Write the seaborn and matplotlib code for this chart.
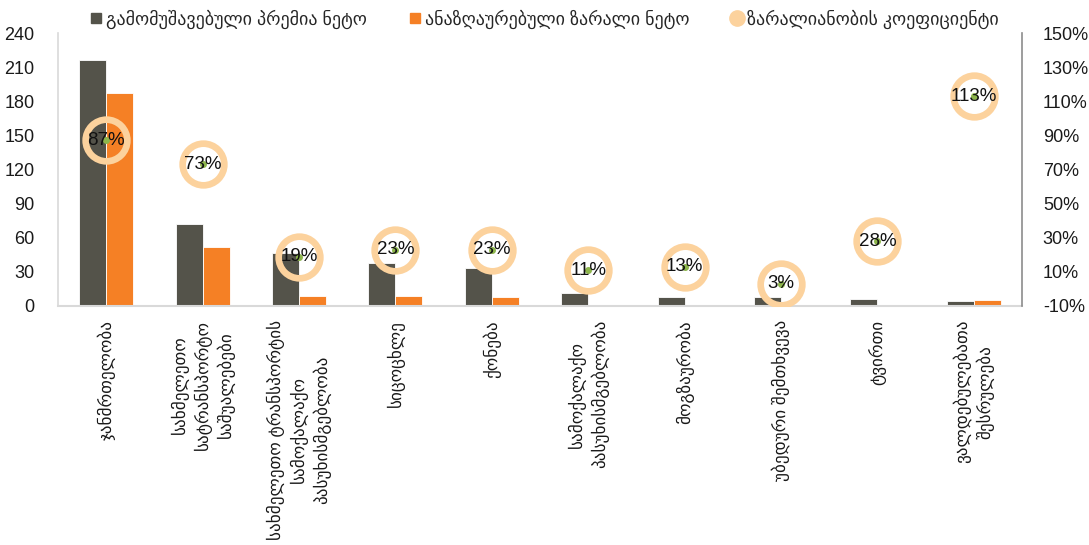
import matplotlib
matplotlib.use("Agg")
import matplotlib.pyplot as plt
import pandas as pd
import seaborn as sns
from matplotlib.lines import Line2D

# Insurance lines (multi-line labels)
categories = [
    "ჯანმრთელობა",
    "სახმელეთო\nსატრანსპორტო\nსაშუალებები",
    "სახმელეთო ტრანსპორტის\nსამოქალაქო\nპასუხისმგებლობა",
    "სიცოცხლე",
    "ქონება",
    "სამოქალაქო\nპასუხისმგებლობა",
    "მოგზაურობა",
    "უბედური შემთხვევა",
    "ტვირთი",
    "ვალდებულებათა\nშესრულება",
]
premium_net = [216, 72, 47, 38, 33, 11, 8, 8, 6, 4]
claims_net = [187, 52, 9, 9, 8, 1, 0.5, 0.5, 1, 5]
loss_ratio = [87, 73, 19, 23, 23, 11, 13, 3, 28, 113]

series_names = [
    "გამომუშავებული პრემია ნეტო",
    "ანაზღაურებული ზარალი ნეტო",
    "ზარალიანობის კოეფიციენტი",
]
left_ticks = list(range(0, 241, 30))
right_ticks = list(range(-10, 151, 20))

DARK = "#54534A"
ORANGE = "#F58025"
PEACH = "#FCD29D"
GREEN = "#8DB64C"

sns.set_theme(style="white")
plt.rcParams["font.family"] = ["Liberation Sans", "DejaVu Sans"]

df = pd.DataFrame({
    "category": categories * 2,
    "series": [series_names[0]] * len(categories) + [series_names[1]] * len(categories),
    "value": premium_net + claims_net,
})

fig = plt.figure(figsize=(10.89, 5.45), dpi=100)
ax = fig.add_axes([58 / 1089, 1 - 306 / 545, (1022 - 58) / 1089, (306 - 33) / 545])

sns.barplot(
    data=df, x="category", y="value", hue="series", order=categories,
    hue_order=series_names[:2], palette=[DARK, ORANGE], width=0.56,
    saturation=1, legend=False, ax=ax, edgecolor="white", linewidth=0.6,
)
ax.set_xlim(-0.5, len(categories) - 0.5)
ax.set_ylim(0, 240)
ax.set_yticks(left_ticks)
ax.set_yticklabels([str(t) for t in left_ticks], fontsize=13, color="#1a1a1a")
ax.set_xlabel("")
ax.set_ylabel("")
ax.set_xticks(range(len(categories)))
ax.set_xticklabels(categories, rotation=90, ha="center", va="top",
                   multialignment="center", fontsize=12.3, color="#1a1a1a",
                   linespacing=1.35)
ax.tick_params(axis="x", length=0, pad=10)
ax.tick_params(axis="y", length=0, pad=17)
for side in ["top", "right"]:
    ax.spines[side].set_visible(False)
ax.spines["left"].set_color("#D9D9D9")
ax.spines["bottom"].set_color("#D9D9D9")
ax.spines["left"].set_linewidth(1.2)
ax.spines["bottom"].set_linewidth(1.5)

ax2 = ax.twinx()
ax2.set_ylim(-10, 150)
ax2.set_yticks(right_ticks)
ax2.set_yticklabels([f"{t}%" for t in right_ticks], fontsize=13, color="#1a1a1a")
ax2.tick_params(axis="y", length=0, pad=15)
for side in ["top", "left", "bottom"]:
    ax2.spines[side].set_visible(False)
ax2.spines["right"].set_color("#8C8C8C")
ax2.spines["right"].set_linewidth(1.2)
ax2.grid(False)
ax.grid(False)

xs = list(range(len(categories)))
ax2.plot(xs, loss_ratio, ls="none", marker="o", ms=30, mfc="none",
         mec=PEACH, mew=4.8, zorder=3)
ax2.plot(xs, loss_ratio, ls="none", marker="o", ms=4, color=GREEN, zorder=4)
for x, v in zip(xs, loss_ratio):
    ax2.text(x, v, f"{v}%", ha="center", va="center", fontsize=13.5,
             color="#111111", zorder=5)

handles = [
    Line2D([], [], ls="none", marker="s", ms=7, color=DARK),
    Line2D([], [], ls="none", marker="s", ms=7, color=ORANGE),
    Line2D([], [], ls="none", marker="o", ms=11, color=PEACH),
]
fig.legend(handles, series_names, loc="center", bbox_to_anchor=(0.5, 1 - 19 / 545),
           ncol=3, frameon=False, fontsize=13, handlelength=0.7,
           handletextpad=0.2, columnspacing=2.3, borderaxespad=0)

fig.savefig("out.png", dpi=100)
